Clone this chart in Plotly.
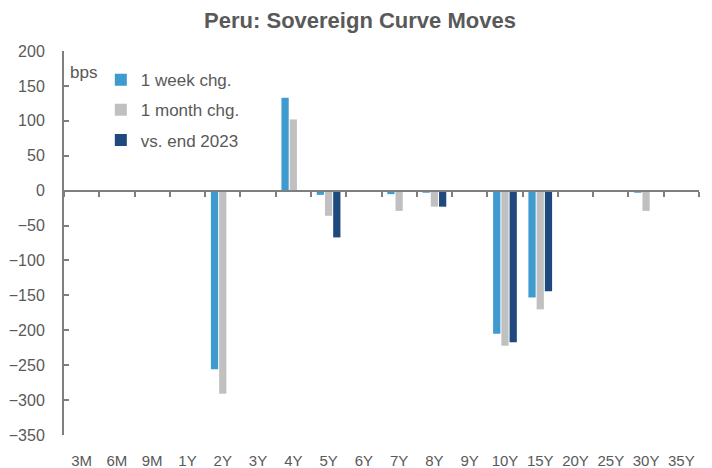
import plotly.graph_objects as go

# Tenors and curve moves (bps)
tenors = ["3M", "6M", "9M", "1Y", "2Y", "3Y", "4Y", "5Y", "6Y", "7Y", "8Y", "9Y",
          "10Y", "15Y", "20Y", "25Y", "30Y", "35Y"]
week_chg = [None, None, None, None, -256, None, 133, -6, None, -5, -3, None,
            -205, -153, None, None, -3, None]
month_chg = [None, None, None, None, -291, None, 102, -36, None, -29, -23, None,
             -222, -170, None, None, -29, None]
vs_end_2023 = [None, None, None, None, None, None, None, -67, None, None, -23, None,
               -217, -144, None, None, -1, None]

series = [
    ("1 week chg.", week_chg, "#3F9AD0"),
    ("1 month chg.", month_chg, "#C0C0C0"),
    ("vs. end 2023", vs_end_2023, "#1F497D"),
]

fig = go.Figure()
for name, vals, color in series:
    fig.add_trace(go.Bar(x=tenors, y=vals, name=name, legendgroup=name,
                         marker_color=color, marker_line_width=0))

# invisible trace so the zero-line axis gets its category ticks
fig.add_trace(go.Scatter(x=tenors, y=[0] * len(tenors), xaxis="x2", mode="markers",
                         marker_opacity=0, showlegend=False, hoverinfo="skip"))

ymin, ymax = -350, 200
gray = "#595959"
axis_gray = "#7F7F7F"

# page body adds an 8px offset, so the figure is 8px smaller than the window
fig.update_layout(
    width=704, height=460,
    margin=dict(l=56, r=13, t=43, b=33),
    plot_bgcolor="white", paper_bgcolor="white",
    font=dict(family="Liberation Sans, Arial", size=17, color=gray),
    title=dict(text="<b>Peru: Sovereign Curve Moves</b>", x=0.5, xanchor="center",
               y=0.973, yanchor="middle", font=dict(size=22, color=gray)),
    barmode="group", bargap=0.3, bargroupgap=0.12,
    showlegend=True,
    legend=dict(x=0.058, y=0.971, xanchor="left", yanchor="top",
                bgcolor="rgba(0,0,0,0)", font=dict(size=17, color=gray),
                itemwidth=30, tracegroupgap=5),
    xaxis=dict(type="category", categoryorder="array", categoryarray=tenors,
               range=[-0.5, len(tenors) - 0.5], showline=False, ticks="",
               showgrid=False, ticklabelstandoff=15, automargin=False,
               tickfont=dict(size=15, color=gray)),
    xaxis2=dict(type="category", categoryorder="array", categoryarray=tenors,
                range=[-0.5, len(tenors) - 0.5], overlaying="x", anchor="free",
                position=(0 - ymin) / (ymax - ymin), side="bottom",
                showline=True, linecolor=axis_gray, linewidth=2,
                ticks="outside", tickson="boundaries", ticklen=5, tickwidth=2,
                tickcolor=axis_gray, showticklabels=False, showgrid=False,
                automargin=False),
    yaxis=dict(range=[ymin, ymax], dtick=50, showgrid=False, zeroline=False,
               showline=True, linecolor=axis_gray, linewidth=2,
               ticks="inside", ticklen=5, tickwidth=2, tickcolor=axis_gray,
               ticklabelstandoff=14, automargin=False,
               tickfont=dict(size=16, color=gray)),
    annotations=[dict(text="bps", xref="paper", yref="paper", x=0.006, y=0.945,
                      xanchor="left", yanchor="middle", showarrow=False,
                      font=dict(size=17, color=gray))],
)

fig.write_html("out.html")
